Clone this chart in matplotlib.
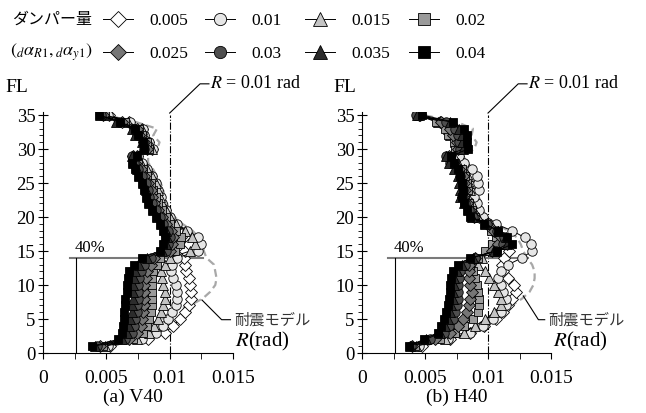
import matplotlib.pyplot as plt
from matplotlib.ticker import MultipleLocator
import numpy as np

plt.rcParams['font.family'] = ['Liberation Serif', 'Noto Sans CJK JP']
plt.rcParams['mathtext.fontset'] = 'stix'

floors = np.arange(1, 36)
labels = ['0.005', '0.01', '0.015', '0.02', '0.025', '0.03', '0.035', '0.04']
markers = ['D', 'o', '^', 's', 'D', 'o', '^', 's']
faces = ['white', '#e6e6e6', '#c4c4c4', '#9a9a9a', '#767676', '#4e4e4e', '#2c2c2c', 'black']
msizes = [6.2, 6.8, 7.3, 6.3, 6.2, 6.8, 7.3, 6.3]

# story drift angle R, in units of 0.001 rad, floors 1..35
v40_005 = [5.3, 8.3, 9.6, 10.3, 10.8, 11.2, 11.5, 11.7, 11.7, 11.6, 11.5, 11.3, 11.2,
           11.1, 11.2, 11.5, 10.9, 10.7, 10.3, 9.9, 9.6, 9.3, 9.1, 9.0, 8.8, 8.5, 8.1, 7.7,
           7.4, 8.6, 8.3, 7.9, 7.8, 6.8, 5.2]
v40_010 = [5.1, 7.8, 8.9, 9.5, 9.9, 10.2, 10.5, 10.6, 10.6, 10.5, 10.3, 10.1, 10.2,
           10.6, 12.2, 12.5, 12.2, 11.4, 10.6, 10.0, 9.7, 9.4, 9.3, 9.1, 8.9, 8.6, 8.2, 7.8,
           7.5, 8.7, 8.4, 8.0, 7.9, 6.9, 5.1]
v40_015 = [4.9, 7.4, 8.4, 8.8, 9.1, 9.3, 9.5, 9.6, 9.6, 9.5, 9.4, 9.3, 9.6,
           10.0, 11.6, 12.0, 11.8, 11.2, 10.5, 10.0, 9.7, 9.4, 9.2, 9.1, 8.9, 8.6, 8.2, 7.7,
           7.4, 8.6, 8.4, 8.0, 7.8, 6.7, 5.0]
v40_020 = [4.7, 7.1, 7.9, 8.2, 8.4, 8.5, 8.6, 8.6, 8.6, 8.6, 8.6, 8.7, 9.0,
           9.2, 10.4, 10.8, 10.9, 10.5, 10.0, 9.7, 9.4, 9.1, 8.9, 8.7, 8.5, 8.2, 7.9, 7.5,
           7.3, 8.4, 8.2, 7.8, 7.6, 6.5, 4.9]
v40_025 = [4.5, 6.8, 7.4, 7.7, 7.8, 7.9, 8.0, 8.0, 8.0, 8.0, 8.1, 8.2, 8.5,
           8.8, 10.0, 10.2, 10.3, 10.1, 9.7, 9.4, 9.1, 8.8, 8.6, 8.5, 8.3, 8.0, 7.7, 7.3,
           7.1, 8.2, 8.0, 7.6, 7.4, 6.2, 4.7]
v40_030 = [4.3, 6.5, 7.0, 7.2, 7.3, 7.4, 7.4, 7.5, 7.5, 7.5, 7.6, 7.7, 8.0,
           8.5, 9.7, 9.9, 10.0, 9.9, 9.5, 9.2, 8.9, 8.6, 8.4, 8.3, 8.1, 7.8, 7.5, 7.2,
           7.0, 8.0, 7.9, 7.4, 7.2, 6.0, 4.6]
v40_035 = [4.1, 6.2, 6.6, 6.8, 6.9, 7.0, 7.0, 7.1, 7.1, 7.1, 7.2, 7.3, 7.6,
           8.2, 9.4, 9.7, 9.8, 9.7, 9.3, 9.0, 8.7, 8.4, 8.2, 8.1, 7.9, 7.6, 7.4, 7.1,
           7.0, 7.9, 7.8, 7.3, 7.0, 5.8, 4.5]
v40_040 = [3.9, 5.9, 6.2, 6.3, 6.4, 6.4, 6.5, 6.5, 6.6, 6.6, 6.7, 6.8, 7.2,
           7.8, 9.2, 9.5, 9.6, 9.5, 9.2, 8.9, 8.6, 8.3, 8.1, 8.0, 7.8, 7.5, 7.3, 7.0,
           7.4, 8.0, 7.9, 7.5, 7.3, 6.1, 4.4]
v40_base = [5.3, 7.1, 8.7, 9.1, 9.4, 10.0, 11.6, 12.6, 13.2, 13.6, 13.7, 13.6, 13.5,
            12.9, 12.7, 12.6, 12.3, 11.8, 11.0, 10.4, 10.0, 9.8, 9.6, 9.5, 9.3, 9.0, 8.7, 8.3,
            8.3, 9.0, 9.2, 8.7, 9.0, 7.3, 5.0]

h40_005 = [4.8, 7.0, 8.6, 9.7, 10.6, 11.2, 11.6, 11.9, 12.2, 12.1, 11.6, 11.2, 11.1, 11.3,
           11.7, 11.5, 11.0, 10.4, 10.1,
           9.3, 9.0, 8.8, 8.6, 8.9, 8.9, 8.8, 8.4, 7.9, 7.6, 7.6, 7.5, 7.2, 7.0, 6.2, 4.6]
h40_010 = [4.5, 6.8, 8.6, 9.6, 10.4, 11.0, 11.4, 11.4, 11.2, 11.0, 10.8, 11.0, 11.6, 12.7,
           13.5, 13.4, 12.9, 11.9, 10.6,
           9.6, 9.3, 9.1, 8.9, 9.3, 9.2, 9.1, 8.7, 8.1, 7.7, 7.7, 7.6, 7.3, 7.1, 6.3, 4.7]
h40_015 = [4.3, 6.6, 8.1, 9.0, 9.8, 10.5, 11.0, 11.0, 10.8, 10.5, 10.1, 9.8, 9.2, 9.5,
           10.6, 11.0, 11.2, 10.8, 10.2,
           9.2, 8.9, 8.7, 8.4, 8.6, 8.5, 8.4, 8.1, 7.6, 7.3, 7.5, 7.4, 7.0, 6.8, 6.0, 4.5]
h40_020 = [4.2, 6.2, 7.4, 8.1, 8.8, 9.2, 9.3, 9.3, 9.2, 9.1, 9.0, 8.8, 8.6, 9.2,
           9.8, 10.3, 10.6, 10.2, 9.8,
           9.0, 8.7, 8.5, 8.2, 8.4, 8.3, 8.2, 7.9, 7.4, 7.1, 7.4, 7.3, 6.8, 6.6, 5.9, 4.4]
h40_025 = [4.0, 5.8, 7.0, 7.6, 8.0, 8.3, 8.5, 8.6, 8.7, 8.6, 8.5, 8.5, 8.5, 9.0,
           10.3, 10.8, 11.0, 10.5, 9.9,
           8.9, 8.6, 8.3, 8.0, 8.2, 8.1, 8.0, 7.7, 7.2, 6.9, 7.6, 7.5, 7.2, 7.0, 6.3, 4.5]
h40_030 = [3.9, 5.4, 6.5, 6.9, 7.2, 7.4, 7.5, 7.6, 7.6, 7.6, 7.7, 7.8, 8.2, 9.0,
           10.6, 11.2, 11.3, 10.7, 9.9,
           8.8, 8.5, 8.2, 7.9, 8.0, 7.9, 7.8, 7.5, 7.0, 6.7, 7.8, 7.7, 7.6, 7.4, 6.7, 4.3]
h40_035 = [3.8, 5.1, 6.2, 6.6, 6.8, 7.0, 7.1, 7.2, 7.2, 7.3, 7.3, 7.5, 7.9, 8.8,
           10.5, 11.5, 11.4, 10.8, 9.8,
           8.7, 8.4, 8.1, 7.8, 7.8, 7.7, 7.6, 7.3, 6.9, 6.7, 8.0, 7.9, 7.9, 7.7, 7.0, 4.4]
h40_040 = [3.7, 4.9, 6.0, 6.3, 6.5, 6.7, 6.8, 6.9, 7.0, 7.0, 7.1, 7.2, 7.6, 8.6,
           10.7, 11.9, 11.5, 10.8, 9.7,
           8.6, 8.3, 8.1, 7.9, 8.0, 7.9, 7.8, 7.6, 7.3, 7.1, 8.4, 8.3, 8.3, 8.1, 7.2, 4.8]
h40_base = [4.8, 7.2, 9.0, 9.6, 10.2, 11.0, 11.9, 12.7, 13.3, 13.6, 13.7, 13.7, 13.5, 13.1,
            12.8, 12.6, 12.3, 11.6, 10.6,
            9.9, 9.6, 9.4, 9.3, 9.5, 9.5, 9.4, 9.0, 8.4, 8.0, 8.9, 9.1, 8.7, 8.8, 7.5, 4.9]

v40 = [v40_005, v40_010, v40_015, v40_020, v40_025, v40_030, v40_035, v40_040]
h40 = [h40_005, h40_010, h40_015, h40_020, h40_025, h40_030, h40_035, h40_040]

fig = plt.figure(figsize=(6.46, 4.13), dpi=100)
ax1 = fig.add_axes([43/646, 60/413, 190/646, 241.3/413])
ax2 = fig.add_axes([362/646, 60/413, 189/646, 241.3/413])


def draw_panel(ax, series, base, hline_end, lead):
    ax.plot(np.array(base) * 1e-3, floors, color='#a8a8a8', ls=(0, (3.5, 2)), lw=1.6, zorder=1)
    ax.plot([0.01, 0.01], [0, 35], color='black', ls='-.', lw=0.8, zorder=1)
    handles = []
    for vals, m, fc, ms in zip(series, markers, faces, msizes):
        h, = ax.plot(np.array(vals) * 1e-3, floors, color='black', lw=0.7, marker=m, ms=ms,
                     mfc=fc, mec='black', mew=0.6, zorder=3)
        handles.append(h)

    # 40% height line
    ax.plot([0.0021, hline_end], [14, 14], color='#7a7a7a', lw=1.5, zorder=2)
    ax.plot([0.0026, 0.0026], [0, 14], color='black', lw=0.8, zorder=2)
    ax.text(0.0025, 14.3, '40%', fontsize=12, va='bottom', ha='left')

    # R = 0.01 rad leader
    ax.plot([0.01, 0.0124, 0.0131], [35.3, 39.6, 39.6], color='black', lw=0.8, clip_on=False)
    ax.text(0.0132, 39.6, '$R$ = 0.01 rad', fontsize=13, va='center', ha='left')

    # seismic model leader
    ax.plot(lead[0], lead[1], color='black', lw=0.8, clip_on=False)
    ax.text(lead[0][-1] + 0.0003, lead[1][-1], '耐震モデル', family='Noto Sans CJK JP',
            fontsize=11, color='#333333', va='center', ha='left')

    ax.text(1.01, 0.0, '$R$(rad)', transform=ax.transAxes, fontsize=15,
            va='bottom', ha='left')

    ax.set_xlim(0, 0.015)
    ax.set_ylim(0, 35.5)
    ax.spines['top'].set_visible(False)
    ax.spines['right'].set_visible(False)
    ax.set_xticks([0, 0.005, 0.01, 0.015])
    ax.set_xticklabels(['0', '0.005', '0.01', '0.015'])
    ax.xaxis.set_minor_locator(MultipleLocator(0.0025))
    ax.set_yticks([0, 5, 10, 15, 20, 25, 30, 35])
    ax.yaxis.set_minor_locator(MultipleLocator(1))
    ax.tick_params(axis='x', which='both', direction='out', length=4, labelsize=14, pad=8)
    ax.tick_params(axis='y', which='major', direction='inout', length=7, labelsize=13.5, pad=2)
    ax.tick_params(axis='y', which='minor', direction='out', length=3)
    return handles


handles = draw_panel(ax1, v40, v40_base, 0.0126,
                     ([0.01255, 0.0141, 0.0148], [7.8, 4.9, 4.9]))
draw_panel(ax2, h40, h40_base, 0.0132,
           ([0.0128, 0.0140, 0.0145], [8.4, 4.9, 4.9]))

fig.text(5/646, 1 - 88/413, 'FL', fontsize=14, va='center', ha='left')
fig.text(333/646, 1 - 88/413, 'FL', fontsize=14, va='center', ha='left')
fig.text(133/646, 1 - 397/413, '(a) V40', fontsize=14, va='center', ha='center')
fig.text(457/646, 1 - 397/413, '(b) H40', fontsize=14, va='center', ha='center')

# legend
fig.text(12/646, 1 - 19/413, 'ダンパー量', family='Noto Sans CJK JP', fontsize=11.5,
         va='center', ha='left')
fig.text(10/646, 1 - 52/413, r'$(_{d}\alpha_{R1},{}_{d}\alpha_{y1})$', fontsize=13,
         va='center', ha='left')
col_x = [103, 205, 305, 409]
for c in range(4):
    fig.legend([handles[c], handles[c + 4]], [labels[c], labels[c + 4]],
               loc='upper left', bbox_to_anchor=(col_x[c]/646, 1 - 13/413),
               frameon=False, fontsize=12.5, handlelength=1.75, handletextpad=0.95,
               borderpad=0, borderaxespad=0, labelspacing=0.95, markerscale=1.3)

fig.savefig('out.png', dpi=100)
